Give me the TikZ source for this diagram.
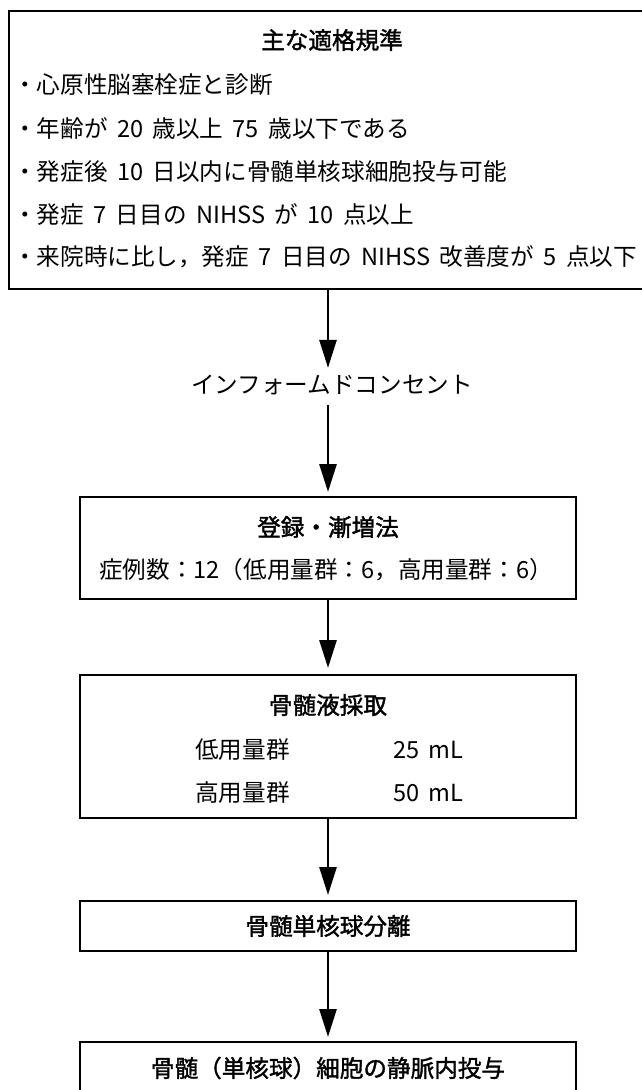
\documentclass[tikz,border=0pt]{standalone}
\usepackage{fontspec}
\newfontfamily\jp{Noto Sans CJK JP}
\newfontfamily\jpmed[FakeBold=1.6]{Noto Sans CJK JP}
\newcommand\jpbody{\jp\fontsize{23.6}{24}\selectfont\spaceskip 0.4em\relax}
\newcommand\jptitle{\jpmed\fontsize{23.6}{24}\selectfont}
\usetikzlibrary{arrows.meta}
\begin{document}
\begin{tikzpicture}[x=1pt,y=-1pt,
  box/.style={draw=black,line width=1.4pt,inner sep=0pt,outer sep=0pt},
  txt/.style={inner sep=0pt,font=\jpbody},
  ttl/.style={inner sep=0pt,font=\jptitle},
  arr/.style={line width=2.8pt,-{Triangle[length=28pt,width=17pt]}}]
\clip (0,0) rectangle (642,1090);
\fill[white] (0,0) rectangle (642,1090);
% top box
\node[box,minimum width=660pt,minimum height=278pt,anchor=north west] (crit) at (9,11) {};
\node[ttl] (crittitle) at (332,40) {主な適格規準};
\node[txt,anchor=west] (c1) at (13,85) {・心原性脳塞栓症と診断};
\node[txt,anchor=west] (c2) at (13,128) {・年齢が 20 歳以上 75 歳以下である};
\node[txt,anchor=west] (c3) at (13,172) {・発症後 10 日以内に骨髄単核球細胞投与可能};
\node[txt,anchor=west] (c4) at (13,215) {・発症 7 日目の NIHSS が 10 点以上};
\node[txt,anchor=west] (c5) at (13,257) {・来院時に比し，発症 7 日目の NIHSS 改善度が 5 点以下};
% informed consent
\node[txt] (ic) at (332,385) {インフォームドコンセント};
% registration
\node[box,minimum width=496pt,minimum height=102pt,anchor=north] (reg) at (328,497) {};
\node[ttl] (regt) at (328,527) {登録・漸増法};
\node[txt] (regn) at (326,570) {症例数：12（低用量群：6，高用量群：6）};
% bone marrow aspiration
\node[box,minimum width=496pt,minimum height=143pt,anchor=north] (dose) at (328,675) {};
\node[ttl] (doset) at (328,705) {骨髄液採取};
\node[txt,anchor=west] (low) at (195,750) {低用量群};
\node[txt,anchor=west] (lowv) at (393,750) {25 mL};
\node[txt,anchor=west] (high) at (195,793) {高用量群};
\node[txt,anchor=west] (highv) at (393,793) {50 mL};
% separation
\node[box,minimum width=496pt,minimum height=50pt,anchor=north] (sep) at (328,901) {};
\node[ttl] (sept) at (328,926) {骨髄単核球分離};
% iv
\node[box,minimum width=496pt,minimum height=70pt,anchor=north] (iv) at (328,1042) {};
\node[ttl] (ivt) at (328,1068) {骨髄（単核球）細胞の静脈内投与};
% arrows
\draw[arr,shorten >=7pt] (crit.south -| reg.north) -- (ic.north -| reg.north);
\draw[arr,shorten <=10pt,shorten >=5pt] (ic.south -| reg.north) -- (reg.north);
\draw[arr,shorten >=7pt] (reg.south) -- (dose.north);
\draw[arr,shorten >=6pt] (dose.south) -- (sep.north);
\draw[arr,shorten >=5pt] (sep.south) -- (iv.north);
\end{tikzpicture}
\end{document}
